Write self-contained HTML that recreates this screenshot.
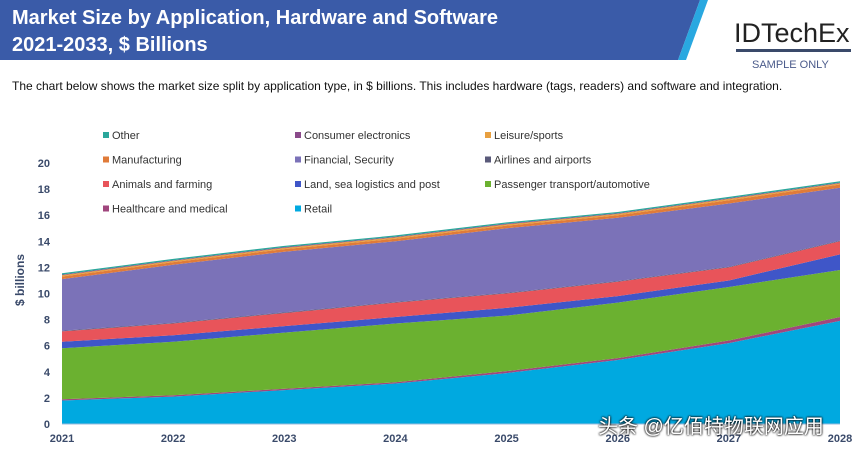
<!DOCTYPE html>
<html><head><meta charset="utf-8"><style>
body{margin:0;width:859px;height:449px;background:#fff;font-family:"Liberation Sans","Noto Sans CJK SC",sans-serif;overflow:hidden;position:relative}
.t{position:absolute}
</style></head><body>
<svg width="859" height="449" style="position:absolute;left:0;top:0">
<polygon points="0,0 700,0 678,60 0,60" fill="#3a5ba8"/>
<polygon points="700,0 708,0 686,60 678,60" fill="#29a8e0"/>
<text x="12" y="24" font-size="20" font-weight="bold" fill="#fff">Market Size by Application, Hardware and Software</text>
<text x="12" y="51" font-size="20" font-weight="bold" fill="#fff">2021-2033, $ Billions</text>
<text x="734" y="42" font-size="27" fill="#222">IDTechEx</text>
<rect x="736" y="49" width="115" height="3" fill="#3a4a6a"/>
<text x="752" y="68" font-size="11" fill="#4a5a8a">SAMPLE ONLY</text>
<text x="12" y="90" font-size="12" fill="#111">The chart below shows the market size split by application type, in $ billions. This includes hardware (tags, readers) and software and integration.</text>
<text transform="translate(24,280) rotate(-90)" text-anchor="middle" font-size="12" font-weight="bold" fill="#3a4a6a">$ billions</text>
<g id="plot"></g><g id="legend"></g>
</svg>
<script>
const years=["2021","2022","2023","2024","2025","2026","2027","2028"];
const retail=[1.8,2.1,2.6,3.1,3.9,4.9,6.2,7.9];
const healthcare=[0.1,0.1,0.1,0.1,0.15,0.15,0.2,0.3];
const passenger=[3.9,4.1,4.3,4.5,4.25,4.25,4.1,3.6];
const landSea=[0.5,0.5,0.5,0.5,0.6,0.5,0.5,1.2];
const animals=[0.8,0.9,1.0,1.1,1.1,1.1,1.0,1.0];
const airlines=[0.05,0.05,0.05,0.05,0.05,0.05,0.05,0.05];
const financial=[3.95,4.45,4.65,4.65,4.95,4.85,4.85,4.05];
const manufacturing=[0.2,0.2,0.2,0.2,0.2,0.2,0.25,0.25];
const leisure=[0.1,0.1,0.1,0.1,0.1,0.1,0.1,0.1];
const consumer=[0.05,0.05,0.05,0.05,0.05,0.05,0.05,0.05];
const other=[0.1,0.1,0.1,0.1,0.1,0.1,0.1,0.1];
const yTicks=[0,2,4,6,8,10,12,14,16,18,20];
const series=[
["retail","Retail",retail,"#00a9e0"],
["healthcare","Healthcare and medical",healthcare,"#a0467d"],
["passenger","Passenger transport/automotive",passenger,"#6bb130"],
["land-sea","Land, sea logistics and post",landSea,"#3f56c8"],
["animals","Animals and farming",animals,"#e8545a"],
["airlines","Airlines and airports",airlines,"#5a5a7a"],
["financial","Financial, Security",financial,"#7b72b8"],
["manufacturing","Manufacturing",manufacturing,"#e07b39"],
["leisure","Leisure/sports",leisure,"#e8a040"],
["consumer","Consumer electronics",consumer,"#8a4a8a"],
["other","Other",other,"#2aa79b"]];
const X0=62,X1=840,Y0=424,Y20=163;
const xs=i=>X0+(X1-X0)*i/(years.length-1);
const ys=v=>Y0-(Y0-Y20)*v/20;
const NS="http://www.w3.org/2000/svg";
const plot=document.getElementById('plot'),leg=document.getElementById('legend');
function mk(tag,at,par){const e=document.createElementNS(NS,tag);for(const k in at)e.setAttribute(k,at[k]);par.appendChild(e);return e;}
let base=years.map(()=>0);
series.forEach(s=>{const top=base.map((b,i)=>b+s[2][i]);
 let pts=top.map((v,i)=>xs(i)+","+ys(v));
 for(let i=years.length-1;i>=0;i--)pts.push(xs(i)+","+ys(base[i]));
 const p=mk('polygon',{points:pts.join(' '),fill:s[3]},plot);
 
 
 base=top;});
mk('line',{x1:X0,y1:Y0,x2:X1,y2:Y0,stroke:"#9bd",'stroke-width':1},plot);
yTicks.forEach(t=>{const e=mk('text',{x:50,y:ys(t)+4,'text-anchor':'end','font-size':11,'font-weight':'bold',fill:'#3a4a6a'},plot);e.textContent=t;
 
 });
years.forEach((y,i)=>{const e=mk('text',{x:xs(i),y:442,'text-anchor':'middle','font-size':11,'font-weight':'bold',fill:'#3a4a6a'},plot);e.textContent=y;
 
 });
const order=["other","consumer","leisure","manufacturing","financial","airlines","animals","land-sea","passenger","healthcare","retail"];
const colX=[103,295,485];
order.forEach((k,j)=>{const s=series.find(q=>q[0]===k);const c=j%3,r=Math.floor(j/3);
 const g=mk('g',{},leg);
 
 
 mk('rect',{x:colX[c],y:132+r*24.5,width:6,height:6,fill:s[3]},g);
 const t=mk('text',{x:colX[c]+9,y:139+r*24.5,'font-size':11,fill:'#333'},g);t.textContent=s[1];});
</script>
<div class="t" style="left:598px;top:410px;font-size:20px;color:#fff;text-shadow:0 0 2px #000,0 0 2px #000">头条 @亿佰特物联网应用</div>
</body></html>
